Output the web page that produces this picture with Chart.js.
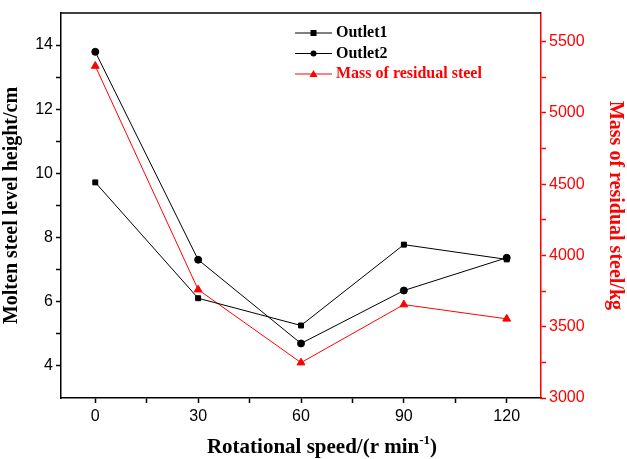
<!DOCTYPE html>
<html><head><meta charset="utf-8">
<script src="https://cdn.jsdelivr.net/npm/chart.js@4.4.1/dist/chart.umd.min.js"></script>
<style>html,body{margin:0;padding:0;background:#fff}#wrap{width:627px;height:459px}</style>
</head><body><div id="wrap"><canvas id="c" width="627" height="459"></canvas></div>
<script>
const speeds = [0, 30, 60, 90, 120];
const outlet1 = [9.72, 6.11, 5.26, 7.78, 7.32];
const outlet2 = [13.79, 7.31, 4.70, 6.35, 7.37];
const massResidual = [5328, 3760, 3248, 3655, 3555];
const xTicks = [0, 15, 30, 45, 60, 75, 90, 105, 120];
const xLabels = [0, 30, 60, 90, 120];
const yLeftTicks = [4, 5, 6, 7, 8, 9, 10, 11, 12, 13, 14];
const yLeftLabels = [4, 6, 8, 10, 12, 14];
const yRightTicks = [3000, 3250, 3500, 3750, 4000, 4250, 4500, 4750, 5000, 5250, 5500];
const yRightLabels = [3000, 3500, 4000, 4500, 5000, 5500];
const legendNames = ['Outlet1', 'Outlet2', 'Mass of residual steel'];

const RED = '#ff0000';
const BLACK = '#000000';
const tickFont = {family: '"Liberation Sans", Arial, sans-serif', size: 16};
const titleFont = {family: '"Liberation Serif", "Times New Roman", serif', size: 20, weight: 'bold'};

function pts(ys) { return speeds.map((x, i) => ({x: x, y: ys[i]})); }

const framePlugin = {
  id: 'frame',
  afterDraw(chart) {
    const ctx = chart.ctx, a = chart.chartArea;
    ctx.save();
    ctx.strokeStyle = BLACK; ctx.lineWidth = 1.5;
    ctx.beginPath(); ctx.moveTo(a.left, a.top); ctx.lineTo(a.right, a.top); ctx.stroke();
    // legend
    const rows = [33, 53.5, 74];
    const lx0 = 295, lx1 = 332, tx = 336;
    chart.data.datasets.forEach((ds, i) => {
      const y = rows[i];
      ctx.strokeStyle = ds.borderColor; ctx.lineWidth = 1;
      ctx.beginPath(); ctx.moveTo(lx0, y); ctx.lineTo(lx1, y); ctx.stroke();
      ctx.fillStyle = ds.borderColor;
      const mx = (lx0 + lx1) / 2;
      if (ds.pointStyle === 'rect') { ctx.fillRect(mx - 3, y - 3, 6, 6); }
      else if (ds.pointStyle === 'circle') { ctx.beginPath(); ctx.arc(mx, y, 3, 0, Math.PI * 2); ctx.fill(); }
      else { ctx.beginPath(); ctx.moveTo(mx, y - 4); ctx.lineTo(mx + 4, y + 3); ctx.lineTo(mx - 4, y + 3); ctx.closePath(); ctx.fill(); }
      ctx.font = 'bold 16px "Liberation Serif", "Times New Roman", serif';
      ctx.textBaseline = 'middle'; ctx.textAlign = 'left';
      ctx.fillText(legendNames[i], tx, y);
    });
    // x-axis title with superscript
    ctx.fillStyle = BLACK; ctx.textBaseline = 'alphabetic';
    const main = 'Rotational speed/(r min', sup = '-1', close = ')';
    const big = 'bold 21px "Liberation Serif", "Times New Roman", serif';
    const small = 'bold 13px "Liberation Serif", "Times New Roman", serif';
    ctx.font = big;
    const w1 = ctx.measureText(main).width, w3 = ctx.measureText(close).width;
    ctx.font = small;
    const w2 = ctx.measureText(sup).width;
    const total = w1 + w2 + w3;
    let x = 322 - total / 2;
    const by = 453;
    ctx.font = big; ctx.fillText(main, x, by); x += w1;
    ctx.font = small; ctx.fillText(sup, x, by - 9); x += w2;
    ctx.font = big; ctx.fillText(close, x, by);
    ctx.restore();
  }
};

new Chart(document.getElementById('c'), {
  type: 'line',
  data: {
    datasets: [
      {label: legendNames[0], data: pts(outlet1), yAxisID: 'y', borderColor: BLACK, backgroundColor: BLACK,
       pointStyle: 'rect', pointRadius: 3.5, borderWidth: 1, tension: 0},
      {label: legendNames[1], data: pts(outlet2), yAxisID: 'y', borderColor: BLACK, backgroundColor: BLACK,
       pointStyle: 'circle', pointRadius: 3.5, borderWidth: 1, tension: 0},
      {label: legendNames[2], data: pts(massResidual), yAxisID: 'y2', borderColor: RED, backgroundColor: RED,
       pointStyle: 'triangle', pointRadius: 4.5, borderWidth: 1, tension: 0}
    ]
  },
  options: {
    responsive: false, animation: false,
    layout: {padding: {top: 13, left: 0, right: 0, bottom: 0}},
    plugins: {legend: {display: false}, tooltip: {enabled: false}},
    scales: {
      x: {
        type: 'linear', min: -10, max: 130,
        afterBuildTicks: s => { s.ticks = xTicks.map(v => ({value: v})); },
        afterFit: s => { s.height = 61; },
        border: {color: BLACK, width: 1.5},
        grid: {drawOnChartArea: false, tickLength: 5, tickColor: BLACK, tickWidth: 1.5},
        ticks: {font: tickFont, color: BLACK, padding: 4, autoSkip: false, maxRotation: 0,
                callback: v => xLabels.includes(v) ? String(v) : ''},
        title: {display: false}
      },
      y: {
        position: 'left', min: 3, max: 15,
        afterBuildTicks: s => { s.ticks = yLeftTicks.map(v => ({value: v})); },
        afterFit: s => { s.width = 61; },
        border: {color: BLACK, width: 1.5},
        grid: {drawOnChartArea: false, tickLength: 5, tickColor: BLACK, tickWidth: 1.5},
        ticks: {font: tickFont, color: BLACK, padding: 3, autoSkip: false,
                callback: v => yLeftLabels.includes(v) ? String(v) : ''},
        title: {display: true, text: 'Molten steel level height/cm', color: BLACK, font: titleFont, padding: {top: 0, bottom: 2}}
      },
      y2: {
        position: 'right', min: 3000, max: 5700,
        afterBuildTicks: s => { s.ticks = yRightTicks.map(v => ({value: v})); },
        afterFit: s => { s.width = 86; },
        border: {color: RED, width: 1.5},
        grid: {drawOnChartArea: false, tickLength: 5, tickColor: RED, tickWidth: 1.5},
        ticks: {font: tickFont, color: RED, padding: 3, autoSkip: false,
                callback: v => yRightLabels.includes(v) ? String(v) : ''},
        title: {display: true, text: 'Mass of residual steel/kg', color: RED, font: titleFont, padding: {top: 0, bottom: 0}}
      }
    }
  },
  plugins: [framePlugin]
});
</script></body></html>
